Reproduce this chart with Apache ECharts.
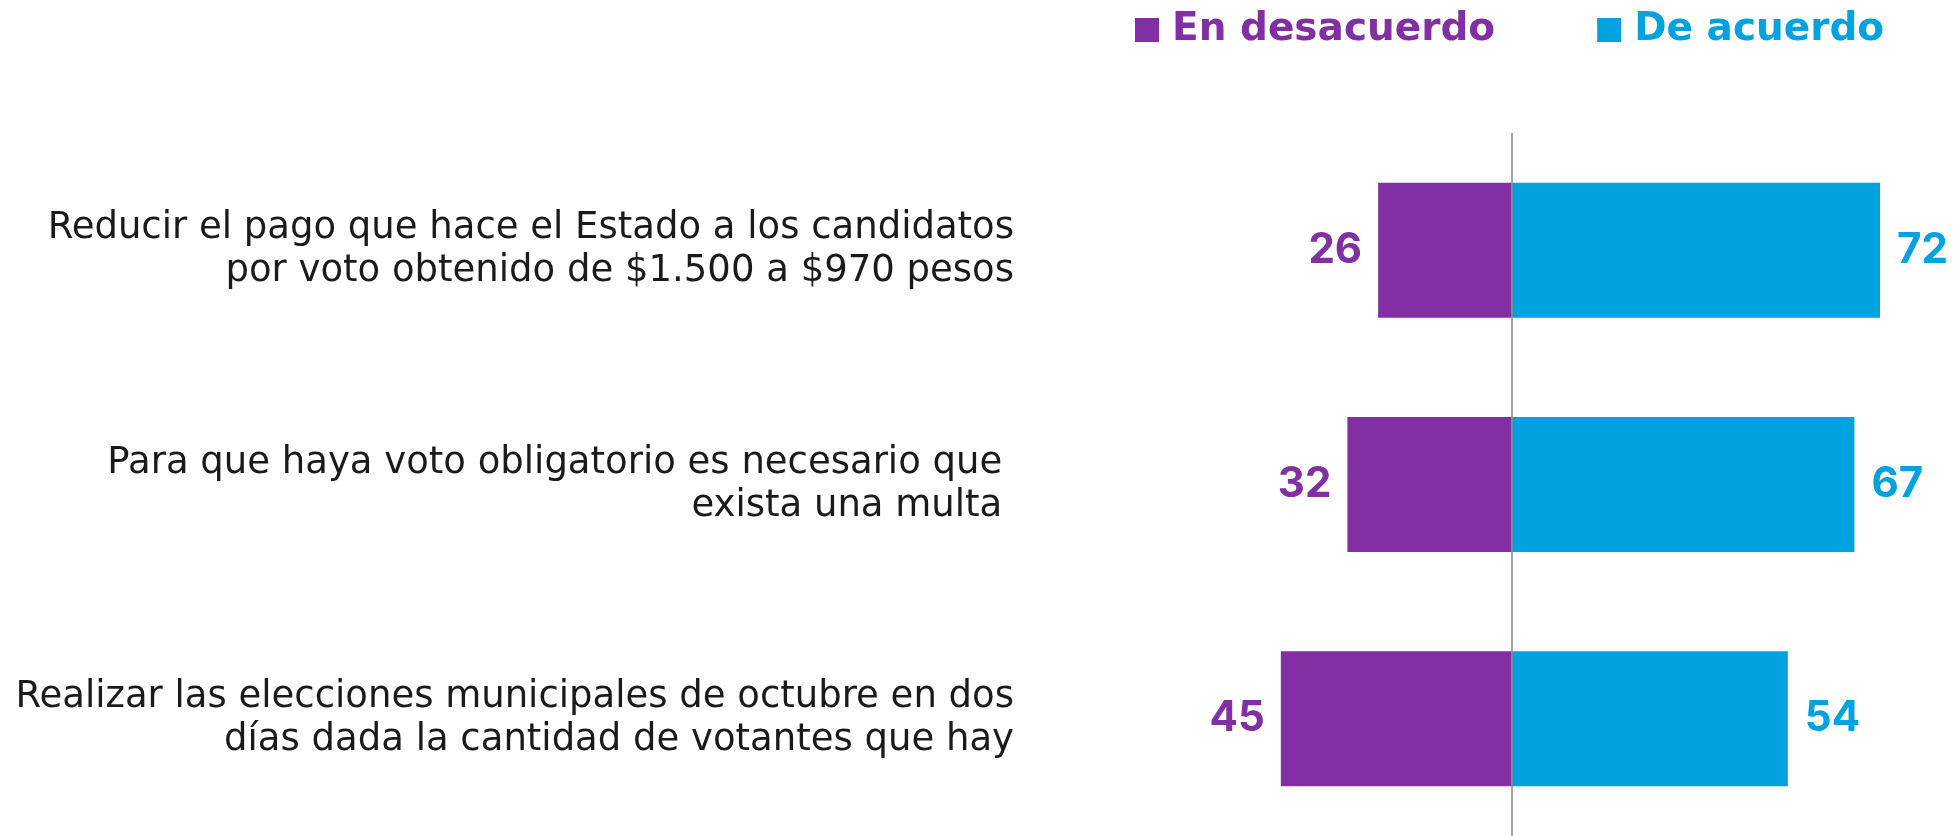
<!DOCTYPE html>
<html>
<head>
<meta charset="utf-8">
<script src="https://cdn.jsdelivr.net/npm/echarts@6/dist/echarts.min.js"></script>
<style>
  html, body { margin: 0; padding: 0; background: #fff; }
  #chart { width: 1955px; height: 836px; }
</style>
</head>
<body>
<div id="chart"></div>
<script>
// categories, top to bottom
const categories = [
    'Reducir el pago que hace el Estado a los candidatos\npor voto obtenido de $1.500 a $970 pesos',
    'Para que haya voto obligatorio es necesario que \nexista una multa ',
    'Realizar las elecciones municipales de octubre en dos\ndías dada la cantidad de votantes que hay'
]
const seriesNames = ['En desacuerdo', 'De acuerdo']
const enDesacuerdo = [26, 32, 45]
const deAcuerdo = [72, 67, 54]

const purple = '#812FA3'
const blue = '#02A2E0'
const boldFont = 'Inter, "Open Sans", sans-serif'

const chart = echarts.init(document.getElementById('chart'))

const option = {
    animation: false,
    legend: {
        left: 1130,
        top: 3,
        icon: 'rect',
        itemWidth: 24,
        itemHeight: 24,
        itemGap: 102,
        selectedMode: false,
        data: seriesNames,
        textStyle: {
            fontFamily: '"DejaVu Sans", sans-serif',
            fontWeight: 700,
            fontSize: 39,
            lineHeight: 44,
            padding: [0, 0, 0, 8],
            color: 'inherit'
        }
    },
    grid: {
        left: 1204,
        right: 34,
        top: 133,
        height: 705,
        containLabel: false
    },
    xAxis: {
        type: 'value',
        min: -60,
        max: 80,
        show: false
    },
    yAxis: {
        type: 'category',
        data: categories,
        inverse: true,
        axisLine: { show: false, onZero: false },
        axisTick: { show: false },
        splitLine: { show: false },
        axisLabel: {
            margin: 190,
            fontFamily: '"DejaVu Sans", sans-serif',
            fontWeight: 'normal',
            fontSize: 37,
            lineHeight: 43,
            color: '#1a1a1a',
            align: 'right'
        }
    },
    series: [
        {
            name: seriesNames[0],
            type: 'bar',
            barWidth: 135,
            barGap: '-100%',
            itemStyle: { color: purple },
            data: enDesacuerdo.map(v => -v),
            label: {
                show: true,
                position: 'left',
                distance: 16,
                formatter: p => Math.abs(p.value),
                fontFamily: boldFont,
                fontWeight: 700,
                fontSize: 42,
                color: purple
            },
            markLine: {
                silent: true,
                symbol: 'none',
                label: { show: false },
                lineStyle: { color: '#8a8a8a', width: 1.5, type: 'solid' },
                data: [{ xAxis: 0 }]
            }
        },
        {
            name: seriesNames[1],
            type: 'bar',
            barWidth: 135,
            barGap: '-100%',
            itemStyle: { color: blue },
            data: deAcuerdo,
            label: {
                show: true,
                position: 'right',
                distance: 17,
                fontFamily: boldFont,
                fontWeight: 700,
                fontSize: 42,
                color: blue
            }
        }
    ]
}

chart.setOption(option)
</script>
</body>
</html>
